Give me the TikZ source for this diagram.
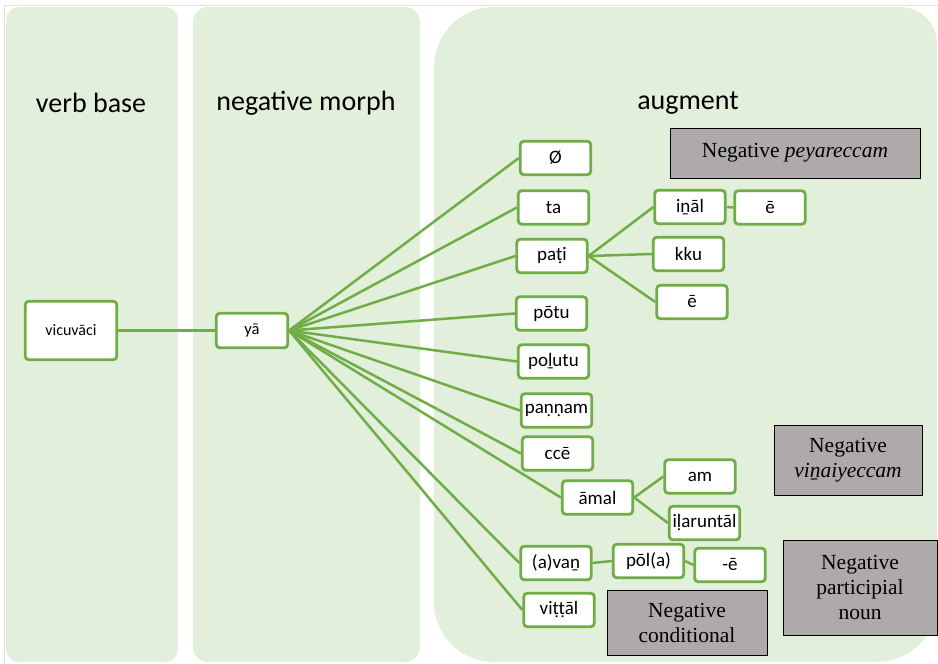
\documentclass[tikz,border=0pt]{standalone}
\usepackage{fontspec}
\setmainfont{Liberation Serif}
\newfontfamily\carl{Carlito}
\definecolor{colfill}{HTML}{E2EFDA}
\definecolor{grn}{HTML}{70AD47}
\definecolor{gry}{HTML}{AEAAAA}
\begin{document}
\begin{tikzpicture}[x=1pt,y=-1pt,
  gbox/.style={draw=grn, line width=2.8pt, fill=white, rounded corners=3.5pt,
    font=\carl\fontsize{19}{22}\selectfont, inner sep=0pt,
    minimum width=70.5pt, minimum height=33.5pt},
  greybox/.style={draw=black, line width=0.9pt, fill=gry,
    font=\fontsize{21.5}{25}\selectfont, align=center, inner sep=0pt},
  link/.style={draw=grn, line width=2.5pt},
  head/.style={font=\carl\fontsize{28}{30}\selectfont, inner sep=0pt}]
\useasboundingbox (0,0) rectangle (938,664);
\fill[white] (0,0) rectangle (938,664);
\draw[black!12, line width=1pt] (4.5,664) -- (4.5,5.5) -- (938,5.5);
% columns
\fill[colfill, rounded corners=13pt] (6,7) rectangle (178,662);
\fill[colfill, rounded corners=15pt] (193,7) rectangle (420,662);
\fill[colfill] (434,67) .. controls (434,33.9) and (460.9,7) .. (494,7)
  -- (900,7) .. controls (920.4,7) and (937,23.6) .. (937,44)
  -- (937,602) .. controls (937,635.1) and (910.1,662) .. (877,662)
  -- (494,662) .. controls (460.9,662) and (434,635.1) .. (434,602) -- cycle;
% headings
\node[head] (h1) at (91,103) {verb base};
\node[head] (h2) at (306,103) {negative morph};
\node[head] (h3) at (688,103) {augment};
% grey boxes
\node[greybox, minimum width=250pt, minimum height=50pt] (g1) at (795,153) {Negative \textit{peyareccam}};
\node[greybox, minimum width=148pt, minimum height=70pt] (g2) at (848,460) {Negative\\\textit{viṉaiyeccam}};
\node[greybox, minimum width=154pt, minimum height=95pt] (g3) at (860,587.5) {Negative\\participial\\noun};
\node[greybox, minimum width=160pt, minimum height=65pt] (g4) at (687,622.5) {Negative\\conditional};
% green boxes
\node[gbox, minimum width=91.5pt, minimum height=58.5pt, font=\carl\fontsize{16}{18}\selectfont] (vb) at (71,330.5) {vicuvāci};
\node[gbox, minimum width=71.5pt, minimum height=34.5pt, font=\carl\fontsize{16.5}{18}\selectfont] (ya) at (252,330.5) {yā};
\node[gbox] (o) at (555.5,158) {Ø};
\node[gbox] (ta) at (553.5,207.5) {ta};
\node[gbox] (pati) at (552,256) {paṭi};
\node[gbox] (inal) at (690,207) {iṉāl};
\node[gbox] (e1) at (770,207.5) {ē};
\node[gbox] (kku) at (688.5,254) {kku};
\node[gbox] (e2) at (692,302) {ē};
\node[gbox] (potu) at (551.5,313.5) {pōtu};
\node[gbox] (polutu) at (553.5,361.5) {poḻutu};
\node[gbox] (pannam) at (556.5,410.5) {paṇṇam};
\node[gbox] (cce) at (557.5,453.5) {ccē};
\node[gbox] (amal) at (597.5,497.5) {āmal};
\node[gbox] (am) at (700,476.5) {am};
\node[gbox] (ilar) at (704.5,523) {iḷaruntāl};
\node[gbox] (avan) at (556,563) {(a)vaṉ};
\node[gbox] (pola) at (648.5,561) {pōl(a)};
\node[gbox] (e3) at (730,565) {-ē};
\node[gbox] (vittal) at (559,610) {viṭṭāl};
% connectors
\draw[link] (vb.east) -- (ya.west);
\foreach \t in {o,ta,pati,potu,polutu,pannam,cce,amal,avan,vittal}
  \draw[link] (ya.east) -- (\t.west);
\foreach \t in {inal,kku,e2}
  \draw[link] (pati.east) -- (\t.west);
\draw[link] (inal.east) -- (e1.west);
\draw[link] (amal.east) -- (am.west);
\draw[link] (amal.east) -- (ilar.west);
\draw[link] (avan.east) -- (pola.west);
\draw[link] (pola.east) -- (e3.west);
\end{tikzpicture}
\end{document}
